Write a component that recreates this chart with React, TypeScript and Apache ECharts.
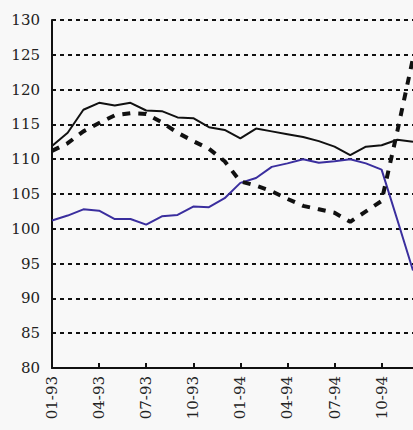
import React, { useEffect, useRef } from "react";
import * as echarts from "echarts";

const months: string[] = [
  "01-93", "02-93", "03-93", "04-93", "05-93", "06-93", "07-93", "08-93", "09-93", "10-93", "11-93", "12-93",
  "01-94", "02-94", "03-94", "04-94", "05-94", "06-94", "07-94", "08-94", "09-94", "10-94", "11-94", "12-94",
];

const solidSeries: number[] = [
  111.9, 113.8, 117.1, 118.1, 117.7, 118.1, 117.0, 116.9, 116.0, 115.9, 114.6, 114.2,
  113.0, 114.4, 114.0, 113.6, 113.2, 112.6, 111.8, 110.6, 111.8, 112.0, 112.8, 112.5,
];

const dashedSeries: number[] = [
  111.2, 112.3, 114.0, 115.2, 116.3, 116.6, 116.5, 115.3, 113.8, 112.6, 111.5, 109.7,
  106.8, 106.2, 105.4, 104.3, 103.3, 102.8, 102.3, 101.0, 102.5, 104.0, 114.0, 124.5,
];

const blueSeries: number[] = [
  101.2, 101.9, 102.8, 102.6, 101.4, 101.4, 100.6, 101.8, 102.0, 103.2, 103.1, 104.4,
  106.6, 107.3, 108.9, 109.4, 110.0, 109.5, 109.7, 110.0, 109.4, 108.5, 101.3, 94.0,
];

const yMin = 80;
const yMax = 130;
const yStep = 5;

const FONT = "'DejaVu Serif', 'Liberation Serif', serif";

export default function App() {
  const ref = useRef<HTMLDivElement>(null);
  useEffect(() => {
    if (!ref.current) return;
    const chart = echarts.init(ref.current, undefined, { renderer: "svg" });
    chart.setOption({
      animation: false,
      backgroundColor: "#f8f8f8",
      grid: { left: 52, right: -2, top: 20, bottom: 62, containLabel: false },
      xAxis: {
        type: "category",
        data: months,
        boundaryGap: false,
        axisLine: { show: true, lineStyle: { color: "#111", width: 2 } },
        axisTick: { show: true, inside: true, length: 5, interval: 2, lineStyle: { color: "#111", width: 2 } },
        axisLabel: {
          interval: 2,
          rotate: 90,
          margin: 8,
          color: "#222",
          fontFamily: FONT,
          fontSize: 15,
        },
        splitLine: { show: false },
      },
      yAxis: {
        type: "value",
        min: yMin,
        max: yMax,
        interval: yStep,
        axisLine: { show: true, lineStyle: { color: "#111", width: 2 } },
        axisTick: { show: false },
        axisLabel: { color: "#222", fontFamily: FONT, fontSize: 15, margin: 12 },
        splitLine: { show: true, lineStyle: { color: "#111", width: 2, type: [4, 4] } },
      },
      series: [
        {
          type: "line",
          data: solidSeries,
          symbol: "none",
          lineStyle: { color: "#111", width: 2 },
          z: 3,
        },
        {
          type: "line",
          data: blueSeries,
          symbol: "none",
          lineStyle: { color: "#3a2e9e", width: 2 },
          z: 3,
        },
        {
          type: "line",
          data: dashedSeries,
          symbol: "none",
          lineStyle: { color: "#111", width: 4, type: [8, 8] },
          z: 4,
        },
      ],
    });
    return () => chart.dispose();
  }, []);
  return (
    <div
      ref={ref}
      style={{ position: "fixed", left: 0, top: 0, width: 413, height: 430 }}
    />
  );
}
